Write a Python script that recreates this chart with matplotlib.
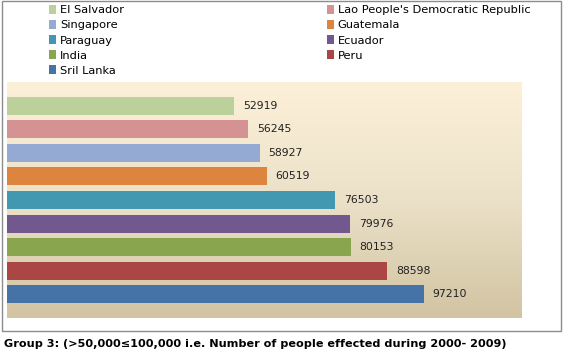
import numpy as np
import matplotlib
matplotlib.use('Agg')
import matplotlib.pyplot as plt
from matplotlib.patches import Patch, Rectangle
from matplotlib.colors import LinearSegmentedColormap

countries = ['El Salvador', "Lao People's Democratic Republic", 'Singapore', 'Guatemala',
             'Paraguay', 'Ecuador', 'India', 'Peru', 'Sril Lanka']
values = [52919, 56245, 58927, 60519, 76503, 79976, 80153, 88598, 97210]
colors = ['#bbd09a', '#d49292', '#95aad3', '#dd843e', '#4198b0',
          '#71588f', '#89a54e', '#aa4644', '#4572a7']
caption = 'Group 3: (>50,000\u2264100,000 i.e. Number of people effected during 2000- 2009)'

fig = plt.figure(figsize=(5.65, 3.58), dpi=100)
W, H = 565, 358

# outer chart border
fig.patches.append(Rectangle((2 / W, 1 - 331 / H), 559 / W, 330 / H, transform=fig.transFigure,
                             fill=False, edgecolor='#8c8c8c', linewidth=1))

ax = fig.add_axes([7 / W, 1 - 318 / H, 515 / W, 236 / H])

# gradient background
grad = LinearSegmentedColormap.from_list('bg', ['#d2c4a2', '#ebe1c8', '#fdf0d9'])
ax.imshow(np.linspace(0, 1, 256).reshape(-1, 1), aspect='auto', cmap=grad, origin='lower',
          extent=[0, 1, 0, 1], transform=ax.transAxes, zorder=0)

y = np.arange(len(values))
ax.barh(y, values, height=0.77, color=colors, zorder=2)
for yi, v in zip(y, values):
    ax.text(v + 2000, yi, str(v), va='center', ha='left', fontsize=7.8, color='#222222', zorder=3)

ax.set_xlim(0, 120000)
ax.set_ylim(9, -1)
ax.axis('off')

# legend in two columns, row-major like the original
left = [0, 2, 4, 6, 8]
right = [1, 3, 5, 7]
for idx, x0 in ((left, 49 / W), (right, 327 / W)):
    handles = [Patch(facecolor=colors[i], label=countries[i]) for i in idx]
    fig.legend(handles=handles, loc='upper left', bbox_to_anchor=(x0, 1 - 5 / H), frameon=False,
               fontsize=8.2, handlelength=0.65, handleheight=0.8, handletextpad=0.3,
               labelspacing=0.42, borderpad=0, borderaxespad=0)

fig.text(4 / W, 1 - 344 / H, caption, fontsize=8.1, fontweight='bold', va='center', ha='left')

fig.savefig('out.png', dpi=100)
